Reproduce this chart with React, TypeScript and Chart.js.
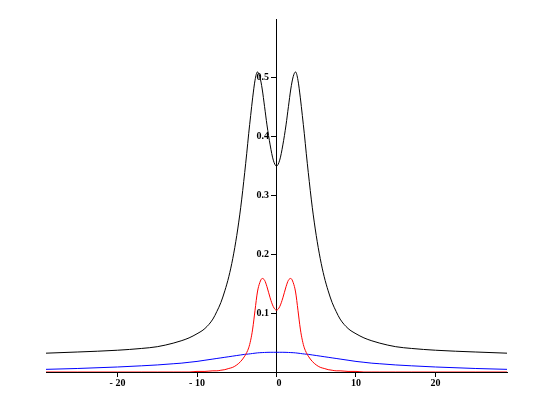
import React, { useEffect, useRef } from "react";
import { Chart, registerables } from "chart.js";

Chart.register(...registerables);

const xValues = [
  -29, -25, -20, -17, -15, -13, -12, -11, -10, -9, -8, -7.5, -7, -6.5, -6, -5.5, -5, -4.5, -4, -3.75, -3.5, -3.25, -3, -2.7, -2.4, -2.1, -1.8, -1.5, -1.2, -0.8, -0.4,
  0,
  0.4, 0.8, 1.2, 1.5, 1.8, 2.1, 2.4, 2.7, 3, 3.25, 3.5, 3.75, 4, 4.5, 5, 5.5, 6, 6.5, 7, 7.5, 8, 9, 10, 11, 12, 13, 15, 17, 20, 25, 29,
];

const blackValues = [
  0.032, 0.034, 0.037, 0.040, 0.043, 0.049, 0.053, 0.058, 0.065, 0.074, 0.090, 0.103, 0.118, 0.138, 0.162, 0.193, 0.232, 0.280, 0.339, 0.371, 0.405, 0.436, 0.466, 0.496, 0.510, 0.502, 0.481, 0.451, 0.420, 0.386, 0.360,
  0.350,
  0.360, 0.386, 0.420, 0.451, 0.481, 0.502, 0.510, 0.496, 0.466, 0.436, 0.405, 0.371, 0.339, 0.280, 0.232, 0.193, 0.162, 0.138, 0.118, 0.103, 0.090, 0.074, 0.065, 0.058, 0.053, 0.049, 0.043, 0.040, 0.037, 0.034, 0.032,
];

const redValues = [
  0, 0, 0, 0, 0, 0, 0, 0, 0.001, 0.001, 0.002, 0.002, 0.003, 0.004, 0.006, 0.008, 0.012, 0.018, 0.027, 0.033, 0.041, 0.054, 0.073, 0.105, 0.136, 0.152, 0.159, 0.156, 0.145, 0.126, 0.111,
  0.105,
  0.111, 0.126, 0.145, 0.156, 0.159, 0.152, 0.136, 0.105, 0.073, 0.054, 0.041, 0.033, 0.027, 0.018, 0.012, 0.008, 0.006, 0.004, 0.003, 0.002, 0.002, 0.001, 0.001, 0, 0, 0, 0, 0, 0, 0, 0,
];

const blueValues = [
  0.0045, 0.006, 0.0085, 0.0105, 0.012, 0.014, 0.015, 0.0165, 0.018, 0.020, 0.022, 0.023, 0.024, 0.025, 0.026, 0.027, 0.028, 0.029, 0.030, 0.0302, 0.0306, 0.031, 0.0315, 0.032, 0.0325, 0.0328, 0.033, 0.0332, 0.0334, 0.0335, 0.0335,
  0.0335,
  0.0335, 0.0335, 0.0334, 0.0332, 0.033, 0.0328, 0.0325, 0.032, 0.0315, 0.031, 0.0306, 0.0302, 0.030, 0.029, 0.028, 0.027, 0.026, 0.025, 0.024, 0.023, 0.022, 0.020, 0.018, 0.0165, 0.015, 0.014, 0.012, 0.0105, 0.0085, 0.006, 0.0045,
];

const xTicks = [-20, -10, 0, 10, 20];
const yTicks = [0.1, 0.2, 0.3, 0.4, 0.5];

const toPoints = (ys: number[]) => xValues.map((x, i) => ({ x, y: ys[i] }));

export default function App() {
  const ref = useRef<HTMLCanvasElement | null>(null);

  useEffect(() => {
    if (!ref.current) return;
    const tickFont = { family: "'Liberation Serif', serif", size: 10, weight: "bold" as const };
    const chart = new Chart(ref.current, {
      type: "line",
      data: {
        datasets: [
          { data: toPoints(blackValues), borderColor: "#000000", borderWidth: 1, pointRadius: 0, fill: false, cubicInterpolationMode: "monotone" },
          { data: toPoints(redValues), borderColor: "#ff0000", borderWidth: 1, pointRadius: 0, fill: false, cubicInterpolationMode: "monotone" },
          { data: toPoints(blueValues), borderColor: "#0000ff", borderWidth: 1, pointRadius: 0, fill: false, cubicInterpolationMode: "monotone" },
        ],
      },
      options: {
        responsive: false,
        animation: false,
        layout: { padding: { left: 46, right: 28, top: 19, bottom: 23 } },
        plugins: { legend: { display: false }, tooltip: { enabled: false } },
        scales: {
          x: {
            type: "linear",
            min: -29,
            max: 29,
            position: { y: 0 } as any,
            grid: { display: true, drawOnChartArea: false, drawTicks: true, tickLength: 4, color: "#000000" },
            border: { display: true, color: "#000000", width: 1 },
            afterBuildTicks: (s: any) => {
              s.ticks = xTicks.map((v) => ({ value: v }));
            },
            ticks: {
              color: "#000000",
              font: tickFont,
              padding: 1,
              maxRotation: 0,
              autoSkip: false,
              callback: (v: any) => {
                const n = Number(v);
                if (n < 0) return "- " + Math.abs(n);
                if (n === 0) return "\u20020";
                return String(n);
              },
            },
          },
          y: {
            type: "linear",
            min: 0,
            max: 0.6,
            position: { x: 0 } as any,
            grid: { display: true, drawOnChartArea: false, drawTicks: true, tickLength: 5, color: "#000000" },
            border: { display: true, color: "#000000", width: 1 },
            afterBuildTicks: (s: any) => {
              s.ticks = yTicks.map((v) => ({ value: v }));
            },
            ticks: {
              color: "#000000",
              font: tickFont,
              padding: 2,
              autoSkip: false,
              callback: (v: any) => Number(v).toFixed(1) + "   ",
            },
          },
        },
      },
    });
    return () => chart.destroy();
  }, []);

  return (
    <div style={{ position: "fixed", left: 0, top: 0, width: 535, height: 395, background: "#ffffff" }}>
      <canvas ref={ref} width={535} height={395} style={{ display: "block" }} />
    </div>
  );
}
